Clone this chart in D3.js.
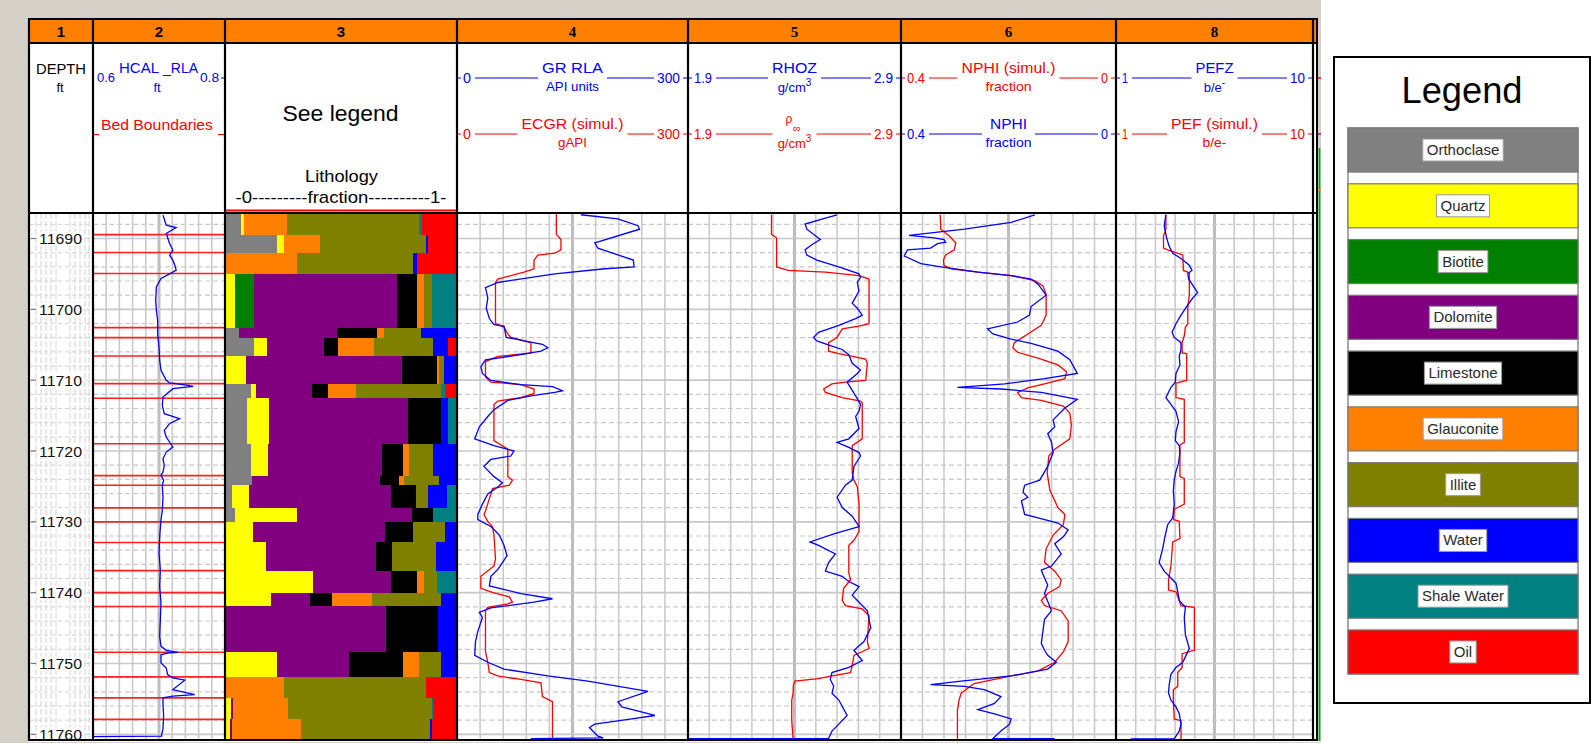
<!DOCTYPE html>
<html>
<head>
<meta charset="utf-8">
<title>Well log – lithology and simulated logs</title>
<script src="https://cdn.jsdelivr.net/npm/d3@7/dist/d3.min.js"></script>
<style>
  html, body { margin: 0; padding: 0; background: #ffffff; }
  svg { display: block; }
</style>
</head>
<body>
<svg id="log" width="1593" height="743"></svg>
<script>
// ---------------- depth axis ----------------
const depthTicks = [11690, 11700, 11710, 11720, 11730, 11740, 11750, 11760];
const depthRange = [11686.4, 11760.8];

// ---------------- lithology beds (track 3) ----------------
const bedBounds = [11686.4, 11689.45, 11691.98, 11694.95, 11702.58, 11703.99, 11706.58, 11710.49,
  11712.56, 11718.97, 11723.47, 11724.84, 11728.03, 11730.0, 11732.91, 11736.89, 11739.99,
  11741.95, 11748.42, 11751.89, 11754.85, 11757.89, 11760.8];

const mineralNames = ["Orthoclase", "Quartz", "Biotite", "Dolomite", "Limestone", "Glauconite",
  "Illite", "Water", "Shale Water", "Oil"];
const mineralColors = ["#808080", "#ffff00", "#008000", "#800080", "#000000", "#ff8000",
  "#808000", "#0000ff", "#008080", "#ff0000"];

const orthoclase = [0.064,0.223,0,0,0.057,0.123,0,0.107,0.090,0.107,0.112,0.025,0.039,0,0,0,0,0,0,0,0,0];
const quartz     = [0.014,0.029,0,0.040,0,0.054,0.086,0.022,0.098,0.077,0,0.077,0.268,0.119,0.172,0.380,0.196,0,0.223,0,0.022,0.017];
const biotite    = [0,0,0,0.083,0,0,0,0,0,0,0,0,0,0,0,0,0,0,0,0,0,0];
const dolomite   = [0,0,0,0.622,0.427,0.249,0.681,0.246,0.604,0.493,0.558,0.614,0.500,0.573,0.478,0.336,0.170,0.694,0.313,0,0.010,0.010];
const limestone  = [0,0,0,0.087,0.171,0.062,0.150,0.067,0.141,0.094,0.080,0.110,0.094,0.123,0.072,0.113,0.094,0.229,0.235,0,0,0];
const glauconite = [0.187,0.157,0.307,0.029,0.032,0.155,0.007,0.123,0,0.026,0.022,0,0,0,0,0.032,0.174,0,0.068,0.252,0.237,0.299];
const illite     = [0.574,0.461,0.507,0.033,0.160,0.258,0.022,0.368,0,0.104,0.152,0.054,0,0.138,0.190,0.055,0.300,0,0.094,0.616,0.626,0.561];
const water      = [0,0.010,0.015,0,0.153,0.065,0.055,0,0.033,0.099,0.077,0.080,0,0.048,0.087,0,0.067,0.077,0.067,0,0,0.010];
const shaleWater = [0.012,0,0,0.106,0,0,0,0.019,0.033,0,0,0.040,0.099,0,0,0.084,0,0,0,0,0.007,0];
const oil        = [0.149,0.120,0.171,0,0,0.033,0,0.048,0,0,0,0,0,0,0,0,0,0,0,0.132,0.098,0.103];
const mineralSeries = [orthoclase, quartz, biotite, dolomite, limestone, glauconite, illite, water, shaleWater, oil];

// ---------------- log curves: [depth ft, value] ----------------
const hcal = [[11686.70,0.706],[11688.12,0.711],[11688.45,0.726],[11689.29,0.711],[11690.71,0.716],[11691.65,0.721],
  [11692.36,0.716],[11693.06,0.721],[11693.77,0.724],[11694.47,0.726],[11694.85,0.719],[11695.65,0.703],[11696.83,0.696],
  [11698.71,0.695],[11700.13,0.696],[11701.54,0.698],[11703.42,0.698],[11705.31,0.700],[11707.19,0.701],[11708.61,0.703],
  [11710.02,0.711],[11710.40,0.716],[11710.73,0.744],[11710.87,0.752],[11711.20,0.721],[11712.37,0.706],[11713.55,0.705],
  [11714.73,0.708],[11715.44,0.731],[11716.14,0.716],[11717.08,0.708],[11718.03,0.711],[11718.73,0.716],[11719.44,0.721],
  [11720.15,0.711],[11721.09,0.706],[11722.03,0.708],[11722.97,0.706],[11723.44,0.703],[11724.14,0.707],[11724.84,0.705],
  [11726.48,0.706],[11728.36,0.705],[11729.77,0.703],[11732.11,0.701],[11734.45,0.700],[11736.80,0.702],[11739.14,0.701],
  [11741.49,0.703],[11743.83,0.702],[11746.17,0.701],[11747.58,0.703],[11748.14,0.711],[11748.42,0.729],[11748.52,0.713],
  [11748.75,0.703],[11749.92,0.703],[11750.63,0.711],[11751.57,0.713],[11752.03,0.721],[11752.36,0.739],[11753.68,0.721],
  [11754.38,0.754],[11754.61,0.721],[11754.85,0.706],[11755.55,0.706],[11757.43,0.707],[11759.30,0.706],[11760.00,0.704],
  [11760.24,0.704],[11760.33,0.599]];

const gr = [[11686.65,161],[11687.23,209],[11688.20,235],[11688.69,237],[11690.63,179],[11691.36,183],[11693.05,229],
  [11694.02,230],[11694.27,192],[11694.99,127],[11696.21,53],[11696.93,37],[11698.39,40],[11699.85,38],[11701.30,42],
  [11702.17,48],[11702.37,61],[11703.97,64],[11704.21,77],[11704.46,87],[11704.94,111],[11705.43,118],[11705.91,109],
  [11706.40,83],[11707.12,37],[11708.09,31],[11709.06,33],[11710.04,44],[11710.62,83],[11710.91,124],[11711.49,137],
  [11711.73,127],[11712.22,96],[11712.85,66],[11714.16,48],[11715.13,40],[11716.59,29],[11718.28,23],[11719.25,48],
  [11719.98,74],[11720.71,70],[11721.19,44],[11722.17,35],[11723.62,48],[11724.49,59],[11725.08,53],[11726.05,40],
  [11727.50,33],[11728.96,27],[11729.69,27],[11730.66,44],[11731.87,55],[11733.32,61],[11734.78,65],[11735.75,59],
  [11736.72,53],[11737.69,44],[11739.05,42],[11740.12,83],[11740.86,124],[11741.33,100],[11742.16,44],[11742.79,29],
  [11743.51,33],[11745.46,27],[11746.91,24],[11748.85,23],[11749.82,40],[11750.79,61],[11751.76,118],[11752.49,170],
  [11753.95,248],[11755.40,209],[11756.13,214],[11757.34,257],[11757.83,227],[11758.56,179],[11759.04,172],
  [11760.26,183],[11760.50,190],[11760.6,96]];

const ecgr = [[11686.5,129],[11689.41,129],[11690.14,135],[11691.60,135],[11692.08,127],[11692.33,105],[11693.05,100],
  [11694.27,100],[11694.75,87],[11695.72,53],[11696.21,50],[11702.03,50],[11702.51,61],[11703.48,66],[11703.97,70],
  [11704.70,96],[11706.15,96],[11706.64,53],[11707.37,37],[11709.55,37],[11710.28,44],[11710.62,83],[11711.25,100],
  [11711.88,100],[11712.46,83],[11712.95,53],[11713.43,48],[11718.53,48],[11719.74,66],[11723.62,66],[11724.11,72],
  [11724.83,68],[11725.32,46],[11726.05,44],[11728.47,37],[11728.96,35],[11729.93,40],[11730.66,46],[11731.87,48],
  [11735.26,50],[11736.23,48],[11737.69,31],[11739.39,31],[11740.02,48],[11740.60,68],[11741.33,72],[11741.57,66],
  [11742.06,40],[11742.54,37],[11748.37,37],[11749.82,40],[11751.28,42],[11751.76,53],[11752.25,83],[11752.73,109],
  [11754.67,111],[11755.40,124],[11760.74,124]];

const rhoz = [[11686.65,2.600],[11687.13,2.545],[11687.96,2.450],[11688.69,2.458],[11690.14,2.521],[11690.87,2.481],
  [11691.60,2.450],[11692.33,2.458],[11693.05,2.505],[11694.02,2.608],[11694.99,2.703],[11695.48,2.710],[11696.21,2.695],
  [11697.42,2.703],[11699.12,2.671],[11699.85,2.695],[11700.82,2.718],[11701.30,2.687],[11702.27,2.608],[11703.24,2.513],
  [11703.97,2.489],[11704.46,2.505],[11705.18,2.576],[11705.67,2.624],[11706.40,2.655],[11707.61,2.671],[11708.58,2.710],
  [11709.06,2.695],[11710.28,2.647],[11712.22,2.687],[11713.43,2.710],[11714.40,2.703],[11715.13,2.687],[11716.83,2.703],
  [11718.28,2.655],[11718.77,2.600],[11719.50,2.655],[11720.22,2.703],[11720.71,2.710],[11722.17,2.679],[11724.11,2.671],
  [11724.83,2.639],[11726.53,2.600],[11727.99,2.624],[11729.20,2.671],[11730.66,2.703],[11731.63,2.592],[11732.84,2.473],
  [11733.32,2.513],[11734.54,2.592],[11735.75,2.560],[11736.96,2.545],[11737.69,2.624],[11738.42,2.655],[11739.14,2.703],
  [11740.36,2.671],[11742.55,2.742],[11744.97,2.758],[11746.91,2.726],[11748.13,2.679],[11749.58,2.718],[11750.55,2.655],
  [11751.28,2.576],[11752.25,2.568],[11753.22,2.584],[11754.19,2.576],[11755.16,2.608],[11757.34,2.647],[11758.56,2.608],
  [11759.53,2.576],[11760.59,2.560],[11760.6,1.9]];

const rhoMatrix = [[11686.65,2.292],[11689.41,2.292],[11689.90,2.316],[11694.02,2.316],[11694.51,2.371],[11694.75,2.545],
  [11695.24,2.703],[11695.72,2.750],[11702.03,2.750],[11702.37,2.703],[11702.76,2.624],[11703.97,2.600],[11704.70,2.560],
  [11705.91,2.560],[11706.25,2.608],[11706.54,2.655],[11707.03,2.734],[11707.61,2.742],[11710.04,2.734],[11710.28,2.639],
  [11710.52,2.576],[11711.25,2.537],[11711.73,2.545],[11712.46,2.624],[11712.95,2.710],[11713.19,2.718],[11718.28,2.718],
  [11719.25,2.671],[11723.13,2.671],[11724.11,2.679],[11725.08,2.695],[11727.50,2.703],[11731.38,2.703],[11732.60,2.679],
  [11733.32,2.655],[11737.21,2.655],[11738.18,2.663],[11739.39,2.631],[11741.09,2.624],[11741.82,2.639],[11742.30,2.718],
  [11743.27,2.750],[11746.91,2.742],[11747.88,2.750],[11748.85,2.679],[11750.31,2.671],[11751.28,2.663],[11751.76,2.576],
  [11752.15,2.513],[11752.49,2.402],[11753.22,2.394],[11754.19,2.394],[11755.16,2.387],[11758.07,2.387],[11760.74,2.394]];

const nphi = [[11686.65,0.151],[11687.72,0.195],[11688.69,0.282],[11689.56,0.385],[11689.90,0.338],[11690.14,0.320],
  [11690.53,0.317],[11690.72,0.332],[11691.36,0.345],[11691.60,0.388],[11692.47,0.394],[11693.54,0.363],[11694.02,0.326],
  [11694.75,0.257],[11695.24,0.195],[11695.72,0.158],[11696.45,0.145],[11698.00,0.130],[11699.60,0.158],[11700.82,0.161],
  [11701.79,0.183],[11702.76,0.239],[11703.48,0.229],[11704.21,0.195],[11704.80,0.158],[11705.91,0.108],[11707.12,0.086],
  [11708.34,0.077],[11709.06,0.072],[11709.79,0.133],[11710.52,0.207],[11711.01,0.295],[11711.25,0.214],[11711.73,0.139],
  [11712.70,0.072],[11713.92,0.095],[11715.61,0.117],[11716.59,0.114],[11717.56,0.127],[11718.77,0.120],[11720.22,0.117],
  [11722.17,0.127],[11724.11,0.142],[11724.83,0.170],[11725.80,0.173],[11726.53,0.164],[11727.02,0.176],[11728.96,0.170],
  [11729.44,0.145],[11730.17,0.108],[11731.14,0.089],[11732.11,0.098],[11733.08,0.114],[11734.54,0.102],[11736.24,0.120],
  [11736.82,0.139],[11737.93,0.133],[11738.91,0.127],[11740.12,0.133],[11742.55,0.120],[11743.76,0.133],[11745.46,0.136],
  [11747.15,0.139],[11748.13,0.133],[11748.85,0.127],[11749.82,0.111],[11750.79,0.127],[11751.76,0.195],[11752.49,0.288],
  [11752.97,0.345],[11753.22,0.282],[11753.70,0.245],[11754.67,0.214],[11755.64,0.226],[11756.52,0.257],[11757.10,0.226],
  [11757.83,0.195],[11758.56,0.198],[11759.53,0.214],[11760.59,0.229],[11760.6,0.114]];

const nphiSim = [[11686.65,0.327],[11688.69,0.326],[11689.66,0.310],[11690.63,0.298],[11691.60,0.301],[11692.33,0.317],
  [11693.05,0.321],[11693.78,0.320],[11694.27,0.307],[11694.75,0.257],[11695.24,0.195],[11695.96,0.151],[11696.69,0.136],
  [11697.90,0.130],[11700.82,0.130],[11702.27,0.139],[11703.48,0.164],[11704.70,0.189],[11705.43,0.192],[11706.06,0.183],
  [11706.88,0.145],[11707.85,0.108],[11708.82,0.092],[11709.79,0.095],[11710.52,0.133],[11711.10,0.164],[11711.73,0.183],
  [11712.46,0.176],[11712.85,0.139],[11713.67,0.098],[11714.64,0.086],[11716.34,0.083],[11718.28,0.086],[11719.74,0.114],
  [11720.71,0.125],[11723.13,0.128],[11725.56,0.123],[11727.99,0.108],[11728.96,0.095],[11730.41,0.098],[11731.87,0.117],
  [11733.81,0.130],[11735.75,0.133],[11736.96,0.114],[11738.18,0.102],[11739.14,0.105],[11740.12,0.127],[11741.09,0.139],
  [11741.82,0.133],[11742.55,0.102],[11744.00,0.089],[11746.91,0.089],[11748.37,0.098],[11749.82,0.114],[11751.04,0.145],
  [11751.76,0.195],[11752.83,0.264],[11754.19,0.288],[11755.16,0.292],[11756.62,0.295],[11760.74,0.295]];

const pefz = [[11686.65,3.28],[11688.20,3.20],[11689.90,3.31],[11691.11,3.43],[11692.08,3.59],[11692.81,3.97],
  [11693.78,4.35],[11694.51,4.47],[11694.99,4.28],[11695.72,4.32],[11696.93,4.58],[11697.66,4.73],[11698.39,4.51],
  [11699.36,4.28],[11700.82,3.97],[11702.03,3.74],[11703.24,3.56],[11703.97,3.66],[11704.70,3.97],[11705.67,3.97],
  [11706.64,3.89],[11707.85,3.92],[11709.06,3.74],[11710.28,3.71],[11711.01,3.51],[11712.46,3.28],[11713.43,3.51],
  [11714.40,3.74],[11715.86,3.86],[11717.31,3.74],[11718.53,3.71],[11719.25,3.89],[11720.22,3.92],[11721.68,3.86],
  [11722.89,3.74],[11724.11,3.66],[11725.56,3.62],[11727.50,3.66],[11729.44,3.59],[11730.41,3.36],[11731.87,3.25],
  [11733.81,3.13],[11735.75,2.97],[11736.96,3.20],[11737.93,3.51],[11738.66,3.74],[11739.87,3.82],[11741.09,3.89],
  [11742.06,4.17],[11743.51,4.12],[11745.94,4.17],[11747.88,4.35],[11748.85,4.20],[11749.82,4.05],[11750.55,3.74],
  [11751.52,3.51],[11752.97,3.43],[11754.19,3.40],[11755.16,3.51],[11756.13,3.74],[11757.10,3.89],[11758.56,3.97],
  [11759.53,3.89],[11760.26,3.74],[11760.6,3.66],[11760.65,1.67]];

const pefSim = [[11686.65,3.28],[11688.69,3.28],[11689.66,3.17],[11691.36,3.17],[11691.60,3.36],[11692.33,4.05],
  [11694.51,4.08],[11694.75,4.28],[11694.99,4.35],[11697.90,4.35],[11699.85,4.28],[11702.03,4.28],[11702.51,4.17],
  [11703.73,4.12],[11704.70,4.02],[11706.15,4.02],[11706.25,4.23],[11710.04,4.23],[11710.42,3.74],[11712.46,3.74],
  [11712.70,4.12],[11718.77,4.12],[11719.16,3.92],[11723.62,3.92],[11723.86,4.12],[11727.50,4.12],[11728.23,3.66],
  [11729.69,3.63],[11729.93,3.89],[11732.35,3.92],[11732.84,3.59],[11736.24,3.51],[11738.18,3.40],[11739.63,3.40],
  [11739.87,3.74],[11741.82,3.97],[11742.06,4.58],[11748.13,4.58],[11748.62,4.02],[11750.55,4.02],[11751.28,3.82],
  [11753.22,3.82],[11753.70,3.62],[11755.16,3.62],[11757.83,3.66],[11758.07,3.97],[11760.74,3.97]];

// ---------------- layout & style ----------------
const SANS = "'Liberation Sans', Arial, Helvetica, sans-serif";
const SERIF = "'Liberation Serif', 'Times New Roman', serif";
const BLUE = "#0000ff", RED = "#ff0000", GRID = "#c8c8c8";
const bodyTop = 213, bodyBottom = 740;
const trackEdges = [29, 93, 225, 457, 688, 901, 1116, 1313];

const svg = d3.select("#log");
const y = d3.scaleLinear().domain(depthRange).range([bodyTop, bodyBottom]);

// window background
svg.append("rect").attr("width", 1593).attr("height", 743).attr("fill", "#ffffff");
svg.append("rect").attr("x", 0).attr("y", 0).attr("width", 1321).attr("height", 18).attr("fill", "#d4d0c8");
svg.append("rect").attr("x", 0).attr("y", 0).attr("width", 28).attr("height", 743).attr("fill", "#d4d0c8");
svg.append("rect").attr("x", 0).attr("y", 742).attr("width", 1321).attr("height", 1).attr("fill", "#d4d0c8");
svg.append("rect").attr("x", 1318).attr("y", 18).attr("width", 3).attr("height", 130).attr("fill", "#d4d0c8");
svg.append("line").attr("x1", 1319.5).attr("x2", 1319.5).attr("y1", 148).attr("y2", 741)
  .attr("stroke", "#00a000").attr("stroke-width", 2);

svg.append("defs").append("clipPath").attr("id", "bodyClip")
  .append("rect").attr("x", 29).attr("y", bodyTop).attr("width", 1288).attr("height", bodyBottom - bodyTop);

const body = svg.append("g").attr("clip-path", "url(#bodyClip)");

// ---------- helpers ----------
function txt(g, x, yy, s, o = {}) {
  const t = g.append("text").attr("x", x).attr("y", yy).text(s)
    .attr("font-family", o.family || SANS).attr("font-size", o.size || 14)
    .attr("fill", o.color || "#000").attr("text-anchor", o.anchor || "start");
  if (o.width) t.attr("textLength", o.width).attr("lengthAdjust", "spacingAndGlyphs");
  if (o.weight) t.attr("font-weight", o.weight);
  return t;
}
function seg(g, x1, y1, x2, y2, color, w = 1) {
  return g.append("line").attr("x1", x1).attr("y1", y1).attr("x2", x2).attr("y2", y2)
    .attr("stroke", color).attr("stroke-width", w);
}

const minorDepths = d3.range(11688, 11761, 2).filter(d => !depthTicks.includes(d));

function drawGrid(x0, x1) {
  const g = body.append("g");
  const xs = d3.scaleLinear().domain([0, 10]).range([x0, x1]);
  d3.range(1, 10).forEach(k => {
    seg(g, xs(k), bodyTop, xs(k), bodyBottom, k === 5 ? "#bdbdbd" : GRID, k === 5 ? 3 : 1.5);
  });
  minorDepths.forEach(d => {
    seg(g, x0, y(d), x1, y(d), GRID, 1.2).attr("stroke-dasharray", "5,3");
  });
  depthTicks.forEach(d => seg(g, x0, y(d), x1, y(d), GRID, 1.6));
}

// ---------- track 1: depth ----------
const t1 = body.append("g");
[36, 41, 46, 51, 56, 70, 75, 80, 85, 89].forEach(x => {
  seg(t1, x, bodyTop, x, bodyBottom, "#d2d2d2", 1).attr("stroke-dasharray", "6,2");
});
minorDepths.concat(depthTicks).forEach(d => {
  seg(t1, 30, y(d), 92, y(d), "#d2d2d2", 1).attr("stroke-dasharray", "4,3");
});
depthTicks.forEach(d => {
  t1.append("rect").attr("x", 37).attr("y", y(d) - 7).attr("width", 47).attr("height", 14).attr("fill", "#fff");
  seg(t1, 31, y(d), 36, y(d), "#777", 1.2);
  txt(t1, 60.5, y(d) + 5.5, d3.format("d")(d), { size: 14.5, anchor: "middle", width: 43, color: "#111" });
});

// ---------- track 2: caliper & bed boundaries ----------
drawGrid(93, 225);
const xHcal = d3.scaleLinear().domain([0.6, 0.8]).range([93, 225]);
const t2 = body.append("g");
bedBounds.slice(1, -1).forEach(d => seg(t2, 93, y(d), 225, y(d), "#ff2020", 1.6));
t2.append("path").datum(hcal)
  .attr("d", d3.line().x(d => xHcal(d[1])).y(d => y(d[0])))
  .attr("fill", "none").attr("stroke", BLUE).attr("stroke-width", 1.3);

// ---------- track 3: lithology ----------
const xLith = d3.scaleLinear().domain([0, 1]).range([226, 456]);
const bedRows = bedBounds.slice(0, -1).map((top, i) => {
  const row = { top, bottom: bedBounds[i + 1] };
  mineralNames.forEach((m, k) => { row[m] = mineralSeries[k][i]; });
  return row;
});
const stacked = d3.stack().keys(mineralNames)(bedRows);
const t3 = body.append("g");
t3.append("rect").attr("x", 225).attr("y", bodyTop).attr("width", 232).attr("height", bodyBottom - bodyTop).attr("fill", "#fff");
stacked.forEach((layer, k) => {
  t3.append("g").attr("fill", mineralColors[k])
    .selectAll("rect").data(layer.filter(s => s[1] - s[0] > 0)).join("rect")
    .attr("x", s => xLith(s[0]))
    .attr("width", s => Math.min(xLith(s[1]), 456) - xLith(s[0]))
    .attr("y", s => y(s.data.top))
    .attr("height", s => y(s.data.bottom) - y(s.data.top))
    .attr("shape-rendering", "crispEdges");
});

// ---------- tracks 4,5,6,8: log curves ----------
function curveTrack(x0, x1, domain, curves) {
  drawGrid(x0, x1);
  const xs = d3.scaleLinear().domain(domain).range([x0, x1]);
  const g = body.append("g");
  curves.forEach(c => {
    g.append("path").datum(c.data)
      .attr("d", d3.line().x(d => xs(d[1])).y(d => y(d[0])))
      .attr("fill", "none").attr("stroke", c.color).attr("stroke-width", 1.3);
  });
}
curveTrack(457, 688, [0, 300], [{ data: ecgr, color: RED }, { data: gr, color: BLUE }]);
curveTrack(688, 901, [1.9, 2.9], [{ data: rhoMatrix, color: RED }, { data: rhoz, color: BLUE }]);
curveTrack(901, 1116, [0.4, 0], [{ data: nphiSim, color: RED }, { data: nphi, color: BLUE }]);
curveTrack(1116, 1313, [1, 10], [{ data: pefSim, color: RED }, { data: pefz, color: BLUE }]);

// ---------- header ----------
const header = svg.append("g");
header.append("rect").attr("x", 29).attr("y", 19).attr("width", 1288).attr("height", 24).attr("fill", "#ff8000");
header.append("rect").attr("x", 29).attr("y", 43).attr("width", 1288).attr("height", 170).attr("fill", "#ffffff");

const trackIds = ["1", "2", "3", "4", "5", "6", "8"];
trackIds.forEach((id, i) => {
  const cx = (trackEdges[i] + trackEdges[i + 1]) / 2;
  txt(header, cx, 37, id, { size: 15, anchor: "middle", weight: "bold", family: i < 3 ? SANS : SERIF });
});

// track 1 header
txt(header, 61, 74, "DEPTH", { size: 15, anchor: "middle", width: 50 });
txt(header, 60, 92, "ft", { size: 13, anchor: "middle" });

// track 2 header
txt(header, 97, 82, "0.6", { size: 13.5, color: BLUE, width: 18 });
txt(header, 119, 73, "HCAL", { size: 15, color: BLUE, width: 40 });
txt(header, 163, 73, "_RLA", { size: 15, color: BLUE, width: 35 });
txt(header, 200, 82, "0.8", { size: 13.5, color: BLUE, width: 19 });
txt(header, 157, 92, "ft", { size: 13, color: BLUE, anchor: "middle" });
seg(header, 221, 78, 225, 78, BLUE, 1);
txt(header, 101, 130, "Bed Boundaries", { size: 15, color: RED, width: 112 });
seg(header, 94, 134.5, 99, 134.5, RED, 1.2);
seg(header, 218, 134.5, 225, 134.5, RED, 1.2);

// track 3 header
txt(header, 340.5, 121, "See legend", { size: 22, anchor: "middle", width: 116 });
txt(header, 341.5, 182, "Lithology", { size: 17, anchor: "middle", width: 73 });
txt(header, 341, 203, "-0---------fraction----------1-", { size: 17, anchor: "middle", width: 211 });
seg(header, 226, 210.5, 456, 210.5, RED, 2);

// scale rows of the curve tracks
const scaleRows = [
  { x0: 457, x1: 688, y: 78, color: BLUE, lo: "0", loW: 8, hi: "300", hiW: 23, name: "GR  RLA", nameW: 61, unit: "API units", unitW: 53 },
  { x0: 457, x1: 688, y: 134, color: RED, lo: "0", loW: 8, hi: "300", hiW: 23, name: "ECGR (simul.)", nameW: 102, unit: "gAPI", unitW: 29 },
  { x0: 688, x1: 901, y: 78, color: BLUE, lo: "1.9", loW: 18, hi: "2.9", hiW: 19, name: "RHOZ", nameW: 45, unit: "g/cm|3" },
  { x0: 688, x1: 901, y: 134, color: RED, lo: "1.9", loW: 18, hi: "2.9", hiW: 19, name: "", nameW: 36, unit: "g/cm|3" },
  { x0: 901, x1: 1116, y: 78, color: RED, lo: "0.4", loW: 18, hi: "0", hiW: 7, name: "NPHI (simul.)", nameW: 94, unit: "fraction", unitW: 46 },
  { x0: 901, x1: 1116, y: 134, color: BLUE, lo: "0.4", loW: 18, hi: "0", hiW: 7, name: "NPHI", nameW: 37, gap: 8, unit: "fraction", unitW: 46 },
  { x0: 1116, x1: 1313, y: 78, color: BLUE, lo: "1", loW: 6, hi: "10", hiW: 15, name: "PEFZ", nameW: 38, unit: "b/e|-" },
  { x0: 1116, x1: 1313, y: 134, color: RED, lo: "1", loW: 6, hi: "10", hiW: 15, name: "PEF (simul.)", nameW: 87, unit: "b/e-", unitW: 24 }
];
scaleRows.forEach(r => {
  const cx = (r.x0 + r.x1) / 2;
  const gap = r.gap || 4;
  seg(header, r.x0, r.y, r.x0 + 4, r.y, r.color);
  seg(header, r.x1 - 5, r.y, r.x1, r.y, r.color);
  txt(header, r.x0 + 6, r.y + 5, r.lo, { size: 14, color: r.color, width: r.loW });
  txt(header, r.x1 - 8, r.y + 5, r.hi, { size: 14, color: r.color, anchor: "end", width: r.hiW });
  seg(header, r.x0 + 6 + r.loW + 4, r.y, cx - r.nameW / 2 - gap, r.y, r.color);
  seg(header, cx + r.nameW / 2 + gap, r.y, r.x1 - 8 - r.hiW - 3, r.y, r.color);
  if (r.name) txt(header, cx, r.y - 5, r.name, { size: 15, color: r.color, anchor: "middle", width: r.nameW });
  if (r.unit.includes("|")) {
    const [base, sup] = r.unit.split("|");
    const t = txt(header, cx, r.y + 14, "", { size: 13, color: r.color, anchor: "middle" });
    t.append("tspan").text(base);
    t.append("tspan").text(sup).attr("font-size", 10).attr("dy", -6);
  } else {
    txt(header, cx, r.y + 13, r.unit, { size: 13, color: r.color, anchor: "middle", width: r.unitW });
  }
});
// matrix density symbol in track 5
txt(header, 789, 123, "ρ", { size: 12, color: RED, anchor: "middle" });
txt(header, 797, 132, "∞", { size: 11, color: RED, anchor: "middle" });

// small marks of the next (partial) track
seg(header, 1317, 78, 1321, 78, RED, 1.5);
seg(header, 1317, 134, 1321, 134, "#a000a0", 1.5);
seg(header, 1317, 190, 1321, 190, "#ff8000", 1.5);

// ---------- frame lines ----------
const frame = svg.append("g").attr("stroke", "#000");
trackEdges.forEach(x => seg(frame, x, 18, x, 741, "#000", 2.2));
seg(frame, 1317, 18, 1317, 741, "#000", 2);
[19, 43, 213, 740].forEach(yy => seg(frame, 28, yy, 1318, yy, "#000", 2.2));

// ---------- legend ----------
const legend = svg.append("g");
legend.append("rect").attr("x", 1334).attr("y", 57).attr("width", 256).attr("height", 646)
  .attr("fill", "#fff").attr("stroke", "#000").attr("stroke-width", 2);
txt(legend, 1462, 103, "Legend", { size: 36, anchor: "middle", width: 121 });
const band = d3.scaleBand().domain(mineralNames).range([128, 674]).paddingInner(0.21).paddingOuter(0);
legend.append("rect").attr("x", 1348).attr("y", 128).attr("width", 230).attr("height", 546)
  .attr("fill", "#fff").attr("stroke", "#8c8c8c").attr("stroke-width", 1.5);
mineralNames.forEach((m, k) => {
  const by = band(m);
  legend.append("rect").attr("x", 1348).attr("y", by).attr("width", 230).attr("height", band.bandwidth())
    .attr("fill", mineralColors[k]).attr("stroke", "#7a7a7a").attr("stroke-width", 1.2);
  const box = legend.append("rect").attr("fill", "#fff").attr("stroke", "#9a9a9a").attr("stroke-width", 1);
  const t = txt(legend, 1463, by + band.bandwidth() / 2 + 5, m, { size: 15, anchor: "middle", color: "#2a2a2a" });
  const w = t.node().getComputedTextLength();
  box.attr("x", 1463 - w / 2 - 4).attr("y", by + band.bandwidth() / 2 - 11).attr("width", w + 8).attr("height", 22);
});
</script>
</body>
</html>
